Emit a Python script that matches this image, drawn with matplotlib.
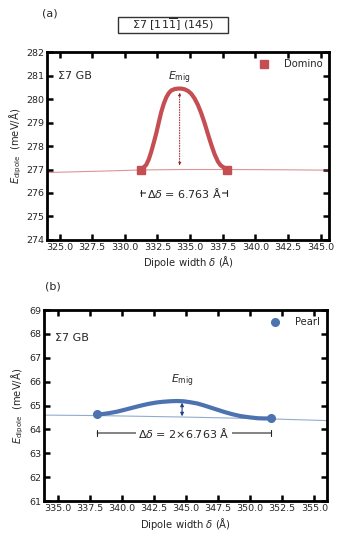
import matplotlib
matplotlib.use("Agg")
import matplotlib.pyplot as plt
from matplotlib.patches import Rectangle
import numpy as np

plt.rcParams['font.family'] = ['DejaVu Sans']
plt.rcParams['mathtext.default'] = 'regular'

# ---- Panel (a) data: Domino ----
a_end_x = [331.21, 337.85]
a_end_y = [277.0, 277.0]
a_curve_x = [331.21, 331.40, 331.64, 331.84, 332.03, 332.22, 332.41, 332.60,
             332.79, 332.98, 333.18, 333.37, 333.56, 333.82, 334.07, 334.33,
             334.58, 334.84, 335.09, 335.34, 335.60, 335.85, 336.11, 336.36,
             336.62, 336.87, 337.13, 337.32, 337.51, 337.68, 337.85]
a_curve_y = [277.00, 277.07, 277.20, 277.44, 277.77, 278.15, 278.55, 279.01,
             279.45, 279.80, 280.08, 280.26, 280.37, 280.43, 280.45, 280.45,
             280.42, 280.35, 280.23, 280.03, 279.75, 279.40, 278.98, 278.52,
             278.06, 277.66, 277.34, 277.19, 277.11, 277.05, 277.02]
a_base_x = [324.0, 328.0, 331.21, 334.2, 337.85, 342.0, 346.0]
a_base_y = [276.87, 276.93, 276.98, 277.0, 277.0, 276.99, 276.97]
a_emig_x = 334.2
a_emig_top = 280.45
a_emig_bot = 277.0

# ---- Panel (b) data: Pearl ----
b_end_x = [338.09, 351.62]
b_end_y = [64.63, 64.46]
b_curve_x = [338.09, 338.60, 339.09, 339.60, 340.13, 340.78, 341.43, 342.08,
             342.73, 343.25, 343.77, 344.29, 344.81, 345.33, 345.86, 346.38,
             346.90, 347.42, 347.94, 348.59, 349.24, 349.90, 350.55, 351.07,
             351.62]
b_curve_y = [64.63, 64.65, 64.69, 64.74, 64.81, 64.90, 64.99, 65.07,
             65.13, 65.16, 65.18, 65.19, 65.18, 65.14, 65.09, 65.01,
             64.92, 64.83, 64.74, 64.64, 64.56, 64.51, 64.47, 64.46,
             64.46]
b_base_x = [334.0, 338.09, 344.7, 351.62, 356.0]
b_base_y = [64.60, 64.58, 64.52, 64.44, 64.37]
b_emig_x = 344.7
b_emig_top = 65.15
b_emig_bot = 64.55

RED = '#c44e52'
BLUE = '#4c72b0'
TXT = '#262626'

fig = plt.figure(figsize=(3.39, 5.44), dpi=100)
ax1 = fig.add_axes([0.139, 0.559, 0.832, 0.345])
ax2 = fig.add_axes([0.130, 0.079, 0.835, 0.351])


def style(ax, xlim, ylim, xticks, yticks):
    ax.set_xlim(*xlim)
    ax.set_ylim(*ylim)
    ax.set_xticks(xticks)
    ax.set_yticks(yticks)
    ax.set_xticklabels([f'{v:.1f}' for v in xticks])
    ax.set_yticklabels([f'{v:d}' for v in yticks])
    for s in ax.spines.values():
        s.set_linewidth(2.0)
        s.set_color('black')
    ax.tick_params(direction='in', length=4.5, width=1.8, top=True, right=True,
                   labelsize=6.8, labelcolor=TXT, pad=2)
    ax.set_xlabel(r'Dipole width $\mathit{\delta}$ (Å)', fontsize=7.2, color=TXT, labelpad=2)
    ax.set_ylabel(r'$\mathit{E}_{\rm dipole}$  (meV/Å)', fontsize=7.2, color=TXT, labelpad=2)


# Panel (a)
ax1.plot(a_base_x, a_base_y, color=RED, lw=0.8, alpha=0.6, zorder=2)
ax1.plot(a_curve_x, a_curve_y, color=RED, lw=3.0, solid_capstyle='round',
         solid_joinstyle='round', zorder=3)
ax1.plot(a_end_x, a_end_y, 's', color=RED, ms=5.5, zorder=4, label='Domino')
ax1.annotate('', xy=(a_emig_x, a_emig_top - 0.05), xytext=(a_emig_x, a_emig_bot + 0.05),
             arrowprops=dict(arrowstyle='<|-|>', color='#9b1b1b', lw=0.7,
                             linestyle=':', mutation_scale=4))
ax1.text(a_emig_x, 280.92, r'$\mathit{E}_{\rm mig}$', ha='center', va='center',
         fontsize=7.8, color=TXT)
ax1.annotate('', xy=(a_end_x[0], 276.0), xytext=(a_end_x[1], 276.0),
             arrowprops=dict(arrowstyle='|-|', color=TXT, lw=0.8, mutation_scale=2.5,
                             shrinkA=0, shrinkB=0))
ax1.text(np.mean(a_end_x), 276.0, r'$\Delta\mathit{\delta}$ = 6.763 Å', ha='center',
         va='center', fontsize=8, color=TXT,
         bbox=dict(facecolor='white', edgecolor='none', pad=0.5))
ax1.text(0.04, 0.875, 'Σ7 GB', transform=ax1.transAxes, fontsize=8, color=TXT,
         va='center')
style(ax1, (324.05, 345.65), (274, 282),
      [325.0, 327.5, 330.0, 332.5, 335.0, 337.5, 340.0, 342.5, 345.0],
      list(range(274, 283)))
ax1.legend(loc='upper right', frameon=False, fontsize=7.2, handletextpad=1.0,
           borderaxespad=0.3, markerscale=1.0, labelcolor=TXT)

# Panel (b)
ax2.plot(b_base_x, b_base_y, color=BLUE, lw=0.8, alpha=0.6, zorder=2)
ax2.plot(b_curve_x, b_curve_y, color=BLUE, lw=3.0, solid_capstyle='round',
         solid_joinstyle='round', zorder=3)
ax2.plot(b_end_x, b_end_y, 'o', color=BLUE, ms=5.5, zorder=4, label='Pearl')
ax2.annotate('', xy=(b_emig_x, b_emig_top - 0.03), xytext=(b_emig_x, b_emig_bot),
             arrowprops=dict(arrowstyle='<|-|>', color='#233f86', lw=0.8,
                             mutation_scale=5, shrinkA=0, shrinkB=0))
ax2.text(b_emig_x, 66.05, r'$\mathit{E}_{\rm mig}$', ha='center', va='center',
         fontsize=7.8, color=TXT)
ax2.annotate('', xy=(b_end_x[0], 63.85), xytext=(b_end_x[1], 63.85),
             arrowprops=dict(arrowstyle='|-|', color=TXT, lw=0.8, mutation_scale=2.5,
                             shrinkA=0, shrinkB=0))
ax2.text(np.mean(b_end_x), 63.85, r'$\Delta\mathit{\delta}$ = 2×6.763 Å', ha='center',
         va='center', fontsize=8, color=TXT,
         bbox=dict(facecolor='white', edgecolor='none', pad=1.5))
ax2.text(0.04, 0.855, 'Σ7 GB', transform=ax2.transAxes, fontsize=8, color=TXT,
         va='center')
style(ax2, (333.95, 356.0), (61, 69),
      [335.0, 337.5, 340.0, 342.5, 345.0, 347.5, 350.0, 352.5, 355.0],
      list(range(61, 70)))
ax2.legend(loc='upper right', frameon=False, fontsize=7.2, handletextpad=1.0,
           borderaxespad=0.3, markerscale=1.0, labelcolor=TXT)

fig.text(0.125, 0.976, '(a)', fontsize=8, color=TXT, va='center')
fig.patches.append(Rectangle((0.348, 0.9393), 0.3245, 0.0294, transform=fig.transFigure,
                             facecolor='white', edgecolor='#333333', lw=1.0))
fig.text(0.51, 0.954, r'Σ7 [11$\overline{1}$] (145)', fontsize=8, color=TXT,
         ha='center', va='center')
fig.text(0.132, 0.473, '(b)', fontsize=8, color=TXT, va='center')

fig.savefig('out.png', dpi=100)
